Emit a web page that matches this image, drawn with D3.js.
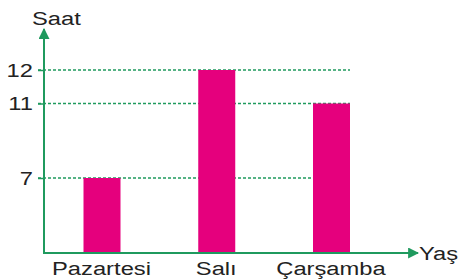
<!DOCTYPE html>
<html>
<head>
<meta charset="utf-8">
<script src="https://cdn.jsdelivr.net/npm/d3@7"></script>
<style>
  body { margin: 0; background: #fff; }
  svg text { font-family: "Liberation Sans", Arial, sans-serif; fill: #222; }
</style>
</head>
<body>
<div id="chart"></div>
<script>
var days = ["Pazartesi", "Salı", "Çarşamba"];
var hours = [7, 12, 11];
var yTicks = [7, 11, 12];

var W = 464, H = 279;
var green = "#1f9a5e", pink = "#e5007d";
var stretch = "scale(1.32,1)"; // lettering in the picture is wide

var svg = d3.select("#chart").append("svg")
    .attr("width", W)
    .attr("height", H);

// the picture's value axis is not evenly spaced, so use a piecewise scale
var y = d3.scaleLinear()
    .domain([0, 7, 11, 12])
    .range([253, 178, 103.5, 70]);

var x = d3.scalePoint()
    .domain(days)
    .range([102, 331.5]);

var barW = 37;

var defs = svg.append("defs");
defs.append("marker")
    .attr("id", "arrow")
    .attr("viewBox", "0 0 10 10")
    .attr("refX", 9).attr("refY", 5)
    .attr("markerWidth", 5.5).attr("markerHeight", 5.5)
    .attr("markerUnits", "strokeWidth")
    .attr("orient", "auto")
    .append("path")
    .attr("d", "M0,0 L10,5 L0,10 Z")
    .attr("fill", green);

// dashed guide lines
svg.append("g").selectAll("line")
    .data(yTicks)
    .enter().append("line")
    .attr("x1", 38).attr("x2", 350)
    .attr("y1", function(d) { return y(d); })
    .attr("y2", function(d) { return y(d); })
    .attr("stroke", green)
    .attr("stroke-width", 1.3)
    .attr("stroke-dasharray", "3,2");

// bars
svg.append("g").selectAll("rect")
    .data(hours)
    .enter().append("rect")
    .attr("x", function(d, i) { return x(days[i]) - barW / 2; })
    .attr("y", function(d) { return y(d); })
    .attr("width", barW)
    .attr("height", function(d) { return y(0) - y(d); })
    .attr("fill", pink);

// y tick labels
var yAxis = d3.axisLeft(y).tickValues(yTicks).tickSize(6);
var gy = svg.append("g")
    .attr("transform", "translate(44,0)")
    .call(yAxis);
gy.select(".domain").remove();
gy.selectAll(".tick line").attr("stroke", green).attr("stroke-width", 1.5);
gy.selectAll(".tick text")
    .attr("x", 0)
    .attr("dy", "0.35em")
    .attr("transform", "translate(-11,0) " + stretch)
    .attr("font-size", 18)
    .style("font-family", "Liberation Sans, Arial, sans-serif")
    .attr("fill", "#222");

// x category labels
var xAxis = d3.axisBottom(x).tickSize(0);
var gx = svg.append("g")
    .attr("transform", "translate(0,253)")
    .call(xAxis);
gx.select(".domain").remove();
gx.selectAll(".tick text")
    .attr("y", 0)
    .attr("dy", 0)
    .attr("transform", "translate(-1,22) " + stretch)
    .attr("font-size", 18)
    .style("font-family", "Liberation Sans, Arial, sans-serif")
    .attr("fill", "#222");

// axis lines with arrows
svg.append("line")
    .attr("x1", 44).attr("y1", y(0))
    .attr("x2", 44).attr("y2", 29)
    .attr("stroke", green).attr("stroke-width", 2)
    .attr("marker-end", "url(#arrow)");
svg.append("line")
    .attr("x1", 43).attr("y1", y(0))
    .attr("x2", 418).attr("y2", y(0))
    .attr("stroke", green).attr("stroke-width", 2)
    .attr("marker-end", "url(#arrow)");

svg.append("text")
    .attr("transform", "translate(32,25) " + stretch)
    .attr("font-size", 18)
    .text("Saat");
svg.append("text")
    .attr("transform", "translate(419,260) " + stretch)
    .attr("font-size", 18)
    .text("Yaş");
</script>
</body>
</html>
